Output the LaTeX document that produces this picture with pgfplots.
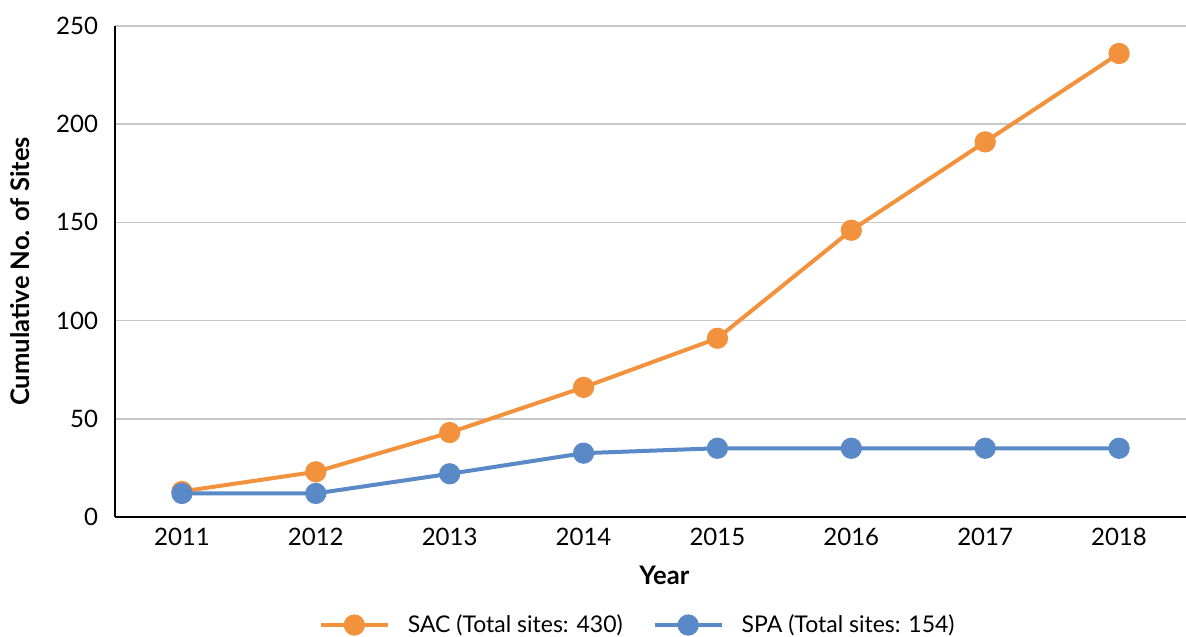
\documentclass[border=0pt]{standalone}
\usepackage{pgfplots}
\pgfplotsset{compat=1.18}
\usepackage{fontspec}
\setmainfont{Lato}
\definecolor{sacor}{RGB}{242,146,61}
\definecolor{spabl}{RGB}{89,137,199}
\definecolor{gridg}{RGB}{200,200,200}
\begin{document}
\begin{tikzpicture}
\useasboundingbox (0,0) rectangle (593pt,318pt);
\begin{axis}[
  at={(57.5pt,59.5pt)}, anchor=south west,
  scale only axis, width=535.5pt, height=245.5pt,
  xmin=2010.5, xmax=2018.5, ymin=0, ymax=250,
  xtick={2011,...,2018}, ytick={0,50,...,250},
  /pgf/number format/assume math mode=true,
  /pgf/number format/set thousands separator={},
  axis x line*=bottom, axis y line*=left,
  axis line style={black, line width=0.9pt, -},
  major tick length=0pt,
  ymajorgrids, grid style={gridg, line width=0.8pt},
  tick label style={font=\fontsize{12}{14}\selectfont},
  yticklabel style={xshift=-5pt},
  xticklabel style={yshift=-2pt},
  xlabel={Year}, ylabel={Cumulative No. of Sites},
  label style={font=\fontsize{12.8}{15}\selectfont\bfseries},
  xlabel style={at={(axis description cs:0.513,-0.118)}, anchor=center},
  ylabel style={at={(axis description cs:-0.0887,0.5)}, anchor=center, rotate=0},
  legend columns=2,
  legend style={at={(0.489,-0.22)}, anchor=center, draw=none, fill=none,
    font=\fontsize{11.5}{13}\selectfont, column sep=7pt,
    /tikz/every even column/.append style={column sep=13pt}},
  legend image code/.code={\draw[#1, mark repeat=2, mark phase=2] plot coordinates {(0pt,0pt)(16.75pt,0pt)(33.5pt,0pt)};},
]
\addplot[sacor, line width=2pt, mark=*, mark size=4.3pt, mark options={solid, fill=sacor, draw=sacor}]
  coordinates {(2011,13)(2012,23)(2013,43)(2014,66)(2015,91)(2016,146)(2017,191)(2018,236)};
\addlegendentry{SAC (Total sites: 430)}
\addplot[spabl, line width=2pt, mark=*, mark size=4.3pt, mark options={solid, fill=spabl, draw=spabl}]
  coordinates {(2011,12)(2012,12)(2013,22)(2014,32.5)(2015,35)(2016,35)(2017,35)(2018,35)};
\addlegendentry{SPA (Total sites: 154)}
\end{axis}
\end{tikzpicture}
\end{document}
